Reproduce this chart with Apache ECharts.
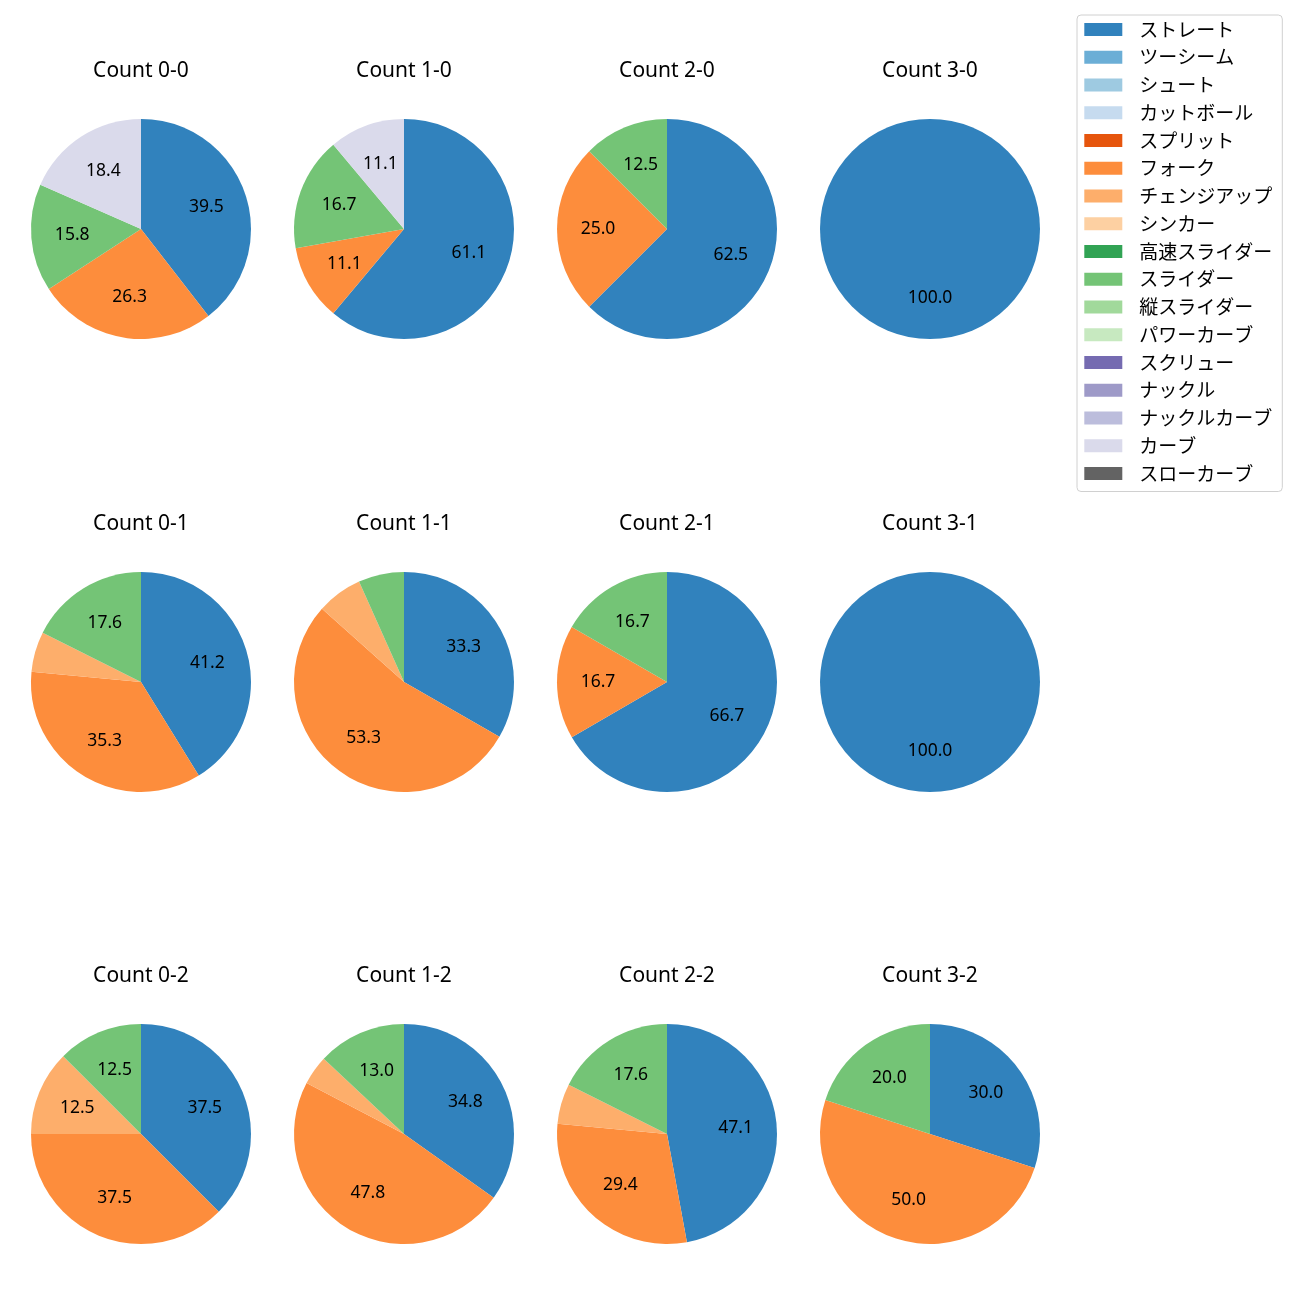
<!DOCTYPE html>
<html>
<head>
<meta charset="utf-8">
<script src="https://cdn.jsdelivr.net/npm/echarts@6/dist/echarts.min.js"></script>
<style>html,body{margin:0;padding:0;background:#fff;}#c{width:1300px;height:1300px;}</style>
</head>
<body>
<div id="c"></div>
<script>
const categories = ['ストレート','ツーシーム','シュート','カットボール','スプリット','フォーク','チェンジアップ','シンカー','高速スライダー','スライダー','縦スライダー','パワーカーブ','スクリュー','ナックル','ナックルカーブ','カーブ','スローカーブ'];
const colors = ['#3182bd','#6baed6','#9ecae1','#c6dbef','#e6550d','#fd8d3c','#fdae6b','#fdd0a2','#31a354','#74c476','#a1d99b','#c7e9c0','#756bb1','#9e9ac8','#bcbddc','#dadaeb','#636363'];
const panelTitles = ['Count 0-0','Count 1-0','Count 2-0','Count 3-0','Count 0-1','Count 1-1','Count 2-1','Count 3-1','Count 0-2','Count 1-2','Count 2-2','Count 3-2'];
// percentage values per panel, order follows categories
const count00 = [39.5,0,0,0,0,26.3,0,0,0,15.8,0,0,0,0,0,18.4,0];
const count10 = [61.1,0,0,0,0,11.1,0,0,0,16.7,0,0,0,0,0,11.1,0];
const count20 = [62.5,0,0,0,0,25.0,0,0,0,12.5,0,0,0,0,0,0,0];
const count30 = [100.0,0,0,0,0,0,0,0,0,0,0,0,0,0,0,0,0];
const count01 = [41.2,0,0,0,0,35.3,5.9,0,0,17.6,0,0,0,0,0,0,0];
const count11 = [33.3,0,0,0,0,53.3,6.7,0,0,6.7,0,0,0,0,0,0,0];
const count21 = [66.7,0,0,0,0,16.7,0,0,0,16.7,0,0,0,0,0,0,0];
const count31 = [100.0,0,0,0,0,0,0,0,0,0,0,0,0,0,0,0,0];
const count02 = [37.5,0,0,0,0,37.5,12.5,0,0,12.5,0,0,0,0,0,0,0];
const count12 = [34.8,0,0,0,0,47.8,4.3,0,0,13.0,0,0,0,0,0,0,0];
const count22 = [47.1,0,0,0,0,29.4,5.9,0,0,17.6,0,0,0,0,0,0,0];
const count32 = [30.0,0,0,0,0,50.0,0,0,0,20.0,0,0,0,0,0,0,0];
const panels = [count00,count10,count20,count30,count01,count11,count21,count31,count02,count12,count22,count32];

const LATIN = "'Noto Sans', 'Noto Sans CJK JP', sans-serif";
const CJK = "'Noto Sans CJK JP', 'Noto Sans', sans-serif";
const colX = [141, 404, 667, 930];
const rowY = [229, 682, 1134];
const R = 110;

const graphics = [];
const series = [];
panels.forEach((vals, i) => {
  const cx = colX[i % 4], cy = rowY[Math.floor(i / 4)];
  graphics.push({
    type: 'text', x: cx, y: cy - 158, silent: true,
    style: {text: panelTitles[i], textAlign: 'center', textVerticalAlign: 'middle',
      font: "normal 21px 'Noto Sans', sans-serif", fill: '#000'}
  });
  const items = [];
  vals.forEach((v, k) => { if (v > 0) items.push({name: categories[k], value: v, itemStyle: {color: colors[k]}}); });
  series.push({
    type: 'pie', center: [cx, cy], radius: [0, R], startAngle: 90, clockwise: true,
    animation: false, label: {show: false}, labelLine: {show: false},
    itemStyle: {borderWidth: 0}, emphasis: {disabled: true},
    data: items
  });
  // transparent overlay to place labels at 0.6 R
  series.push({
    type: 'pie', center: [cx, cy], radius: [0.2 * R, R], startAngle: 90, clockwise: true,
    animation: false, silent: true, legendHoverLink: false, emphasis: {disabled: true},
    itemStyle: {color: 'rgba(0,0,0,0)', borderWidth: 0},
    labelLine: {show: false},
    label: {
      show: true, position: 'inside', fontFamily: LATIN, fontSize: 17.5, color: '#000',
      formatter: p => (p.value >= 10 ? p.value.toFixed(1) : '')
    },
    data: items.map(d => ({name: d.name, value: d.value}))
  });
});
// hidden series holding every category so that all appear in legend
series.push({
  type: 'pie', center: [-100, -100], radius: [0, 0], stillShowZeroSum: false, silent: true,
  animation: false, label: {show: false}, labelLine: {show: false},
  data: categories.map((c, k) => ({name: c, value: 0, itemStyle: {color: colors[k]}}))
});

const option = {
  animation: false,
  graphic: graphics,
  legend: {
    orient: 'vertical', left: 1077, top: 15,
    padding: [5, 10, 8.5, 7.3],
    itemWidth: 38, itemHeight: 13, itemGap: 8.75,
    icon: 'rect',
    borderColor: '#d0d0d0', borderWidth: 1, borderRadius: 4,
    backgroundColor: 'rgba(255,255,255,0.8)',
    selectedMode: false,
    textStyle: {fontFamily: CJK, fontSize: 19, color: '#000', lineHeight: 18, padding: [0, 0, 0, 12]},
    data: categories.map((c, k) => ({name: c, itemStyle: {color: colors[k]}}))
  },
  series: series
};
const chart = echarts.init(document.getElementById('c'), null, {renderer: 'canvas'});
chart.setOption(option);
</script>
</body>
</html>
